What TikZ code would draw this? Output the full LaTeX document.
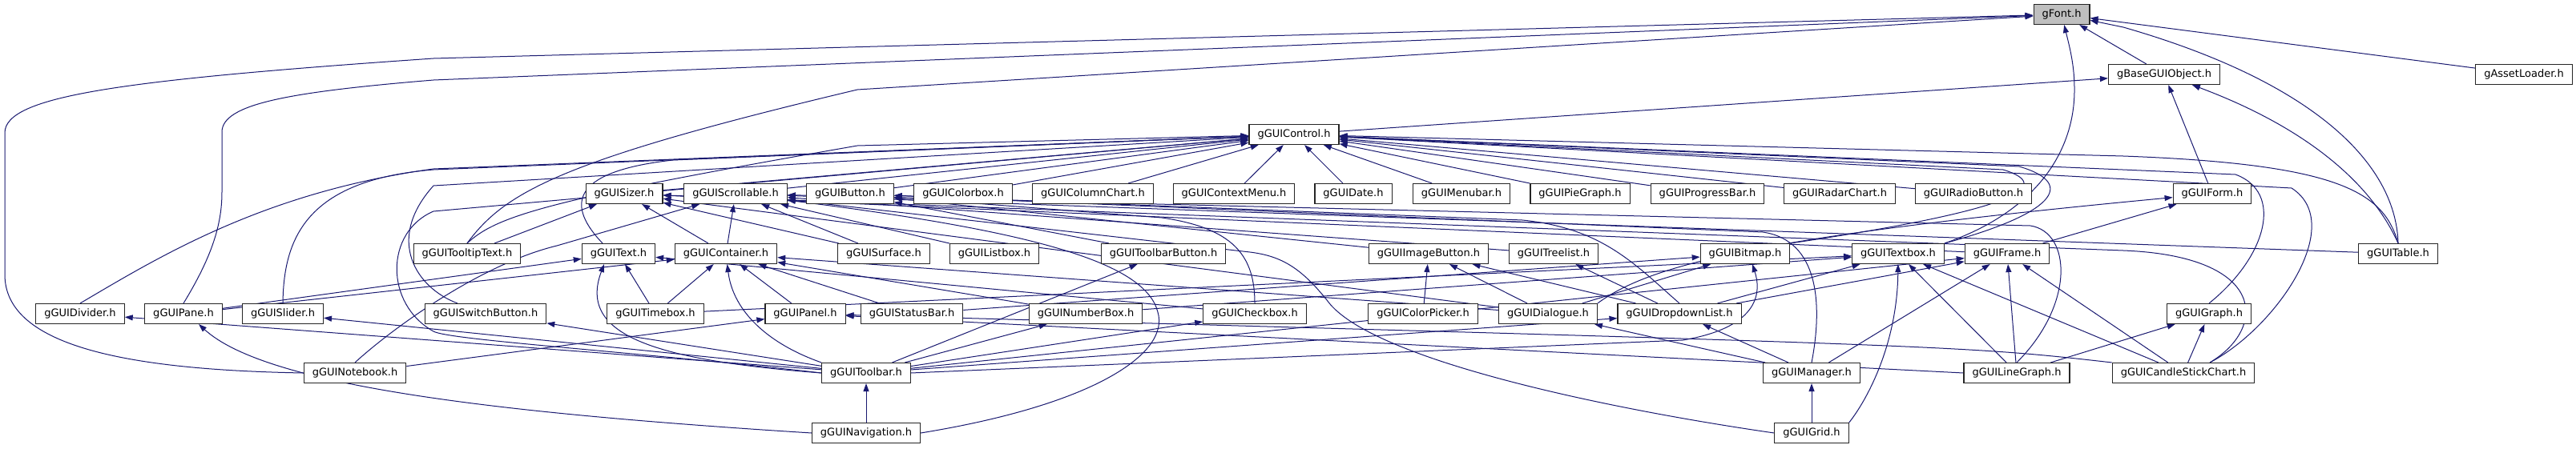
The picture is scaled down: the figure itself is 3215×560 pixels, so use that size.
\documentclass[tikz,border=0pt]{standalone}
\usepackage{fontspec}
\setmainfont{DejaVu Sans}
\usetikzlibrary{arrows.meta}
\definecolor{depblue}{HTML}{191970}
\pgfdeclarelayer{edges}
\pgfsetlayers{edges,main}
\newcommand{\hfont}{\fontsize{13}{15}\selectfont}
\begin{document}
\begin{tikzpicture}[x=1pt,y=-1pt,
  hfile/.style={draw=black!85,line width=1.1pt,fill=white,minimum height=25pt,inner xsep=10.5pt,inner ysep=0pt,font=\hfont},
  hmain/.style={hfile,fill=black!25},
  incl/.style={draw=depblue,line width=1pt,-{Triangle[length=10pt,width=7pt]}}]
\useasboundingbox (0,0) rectangle (3215,560);
\node[hmain] (font) at (2573,18) {gFont.h};
\node[hfile] (base) at (2701,93) {gBaseGUIObject.h};
\node[hfile] (asset) at (3150,93) {gAssetLoader.h};
\node[hfile] (ctrl) at (1615,168) {gGUIControl.h};
\node[hfile] (sizer) at (779,242) {gGUISizer.h};
\node[hfile] (scroll) at (918,242) {gGUIScrollable.h};
\node[hfile] (button) at (1061,242) {gGUIButton.h};
\node[hfile] (colorbox) at (1202,242) {gGUIColorbox.h};
\node[hfile] (colchart) at (1364,242) {gGUIColumnChart.h};
\node[hfile] (ctxmenu) at (1540,242) {gGUIContextMenu.h};
\node[hfile] (date) at (1689,242) {gGUIDate.h};
\node[hfile] (menubar) at (1824,242) {gGUIMenubar.h};
\node[hfile] (piegraph) at (1972,242) {gGUIPieGraph.h};
\node[hfile] (progress) at (2131,242) {gGUIProgressBar.h};
\node[hfile] (radar) at (2296,242) {gGUIRadarChart.h};
\node[hfile] (radio) at (2463,242) {gGUIRadioButton.h};
\node[hfile] (form) at (2761,242) {gGUIForm.h};
\node[hfile] (tooltip) at (583,317) {gGUITooltipText.h};
\node[hfile] (text) at (772,317) {gGUIText.h};
\node[hfile] (container) at (906,317) {gGUIContainer.h};
\node[hfile] (surface) at (1103,317) {gGUISurface.h};
\node[hfile] (listbox) at (1241,317) {gGUIListbox.h};
\node[hfile] (tbbutton) at (1452,317) {gGUIToolbarButton.h};
\node[hfile] (imgbutton) at (1783,317) {gGUIImageButton.h};
\node[hfile] (treelist) at (1939,317) {gGUITreelist.h};
\node[hfile] (bitmap) at (2178,317) {gGUIBitmap.h};
\node[hfile] (textbox) at (2369,317) {gGUITextbox.h};
\node[hfile] (frame) at (2505,317) {gGUIFrame.h};
\node[hfile] (table) at (2993,317) {gGUITable.h};
\node[hfile] (divider) at (100,392) {gGUIDivider.h};
\node[hfile] (pane) at (229,392) {gGUIPane.h};
\node[hfile] (slider) at (353,392) {gGUISlider.h};
\node[hfile] (switch) at (606,392) {gGUISwitchButton.h};
\node[hfile] (timebox) at (818,392) {gGUITimebox.h};
\node[hfile] (panel) at (1005,392) {gGUIPanel.h};
\node[hfile] (statusbar) at (1138,392) {gGUIStatusBar.h};
\node[hfile] (numberbox) at (1355,392) {gGUINumberBox.h};
\node[hfile] (checkbox) at (1566,392) {gGUICheckbox.h};
\node[hfile] (colorpicker) at (1776,392) {gGUIColorPicker.h};
\node[hfile] (dialogue) at (1932,392) {gGUIDialogue.h};
\node[hfile] (dropdown) at (2096,392) {gGUIDropdownList.h};
\node[hfile] (graph) at (2757,392) {gGUIGraph.h};
\node[hfile] (notebook) at (443,466) {gGUINotebook.h};
\node[hfile] (toolbar) at (1081,466) {gGUIToolbar.h};
\node[hfile] (manager) at (2261,466) {gGUIManager.h};
\node[hfile] (linegraph) at (2517,466) {gGUILineGraph.h};
\node[hfile] (candle) at (2725,466) {gGUICandleStickChart.h};
\node[hfile] (navigation) at (1081,541) {gGUINavigation.h};
\node[hfile] (grid) at (2261,541) {gGUIGrid.h};
\begin{pgfonlayer}{edges}
\draw[incl] (base) -- (font);
\draw[incl] (asset) -- (font);
\draw[incl] (table.north) .. controls (2990,200) and (2880,100) .. (2650,34) -- (font);
\draw[incl] (textbox.north east) .. controls (2540,265) and (2590,190) .. (2589,110) .. controls (2589,80) and (2582,55) .. (font);
\draw[incl] (notebook.west) .. controls (150,462) and (6,430) .. (6,343) -- (6,166) .. controls (6,120) and (150,100) .. (541,73) -- (font);
\draw[incl] (pane.north) .. controls (265,320) and (277,280) .. (277,240) -- (277,165) .. controls (277,130) and (360,115) .. (541,100) -- (font);
\draw[incl] (tooltip.north) .. controls (630,240) and (700,200) .. (1070,112) -- (font);
\draw[incl] (ctrl) -- (base);
\draw[incl] (form) -- (base);
\draw[incl] (table.north) .. controls (2960,230) and (2880,160) .. (base);
\draw[incl] (sizer) -- (ctrl);
\draw[incl] (scroll) -- (ctrl);
\draw[incl] (button) -- (ctrl);
\draw[incl] (colorbox) -- (ctrl);
\draw[incl] (colchart) -- (ctrl);
\draw[incl] (ctxmenu) -- (ctrl);
\draw[incl] (date) -- (ctrl);
\draw[incl] (menubar) -- (ctrl);
\draw[incl] (piegraph) -- (ctrl);
\draw[incl] (progress) -- (ctrl);
\draw[incl] (radar) -- (ctrl);
\draw[incl] (radio) -- (ctrl);
\draw[incl] (divider.north) .. controls (200,320) and (330,240) .. (541,211) -- (ctrl);
\draw[incl] (slider.north) .. controls (354,300) and (380,225) .. (541,212) -- (ctrl);
\draw[incl] ([xshift=-35pt]switch.north) .. controls (520,360) and (480,300) .. (541,232) -- (ctrl);
\draw[incl] (toolbar.west) .. controls (800,440) and (560,425) .. (541,414) .. controls (480,380) and (480,290) .. (541,264) -- (ctrl);
\draw[incl] (tooltip.north) .. controls (620,270) and (680,250) .. (1070,182) -- (ctrl);
\draw[incl] ([xshift=-20pt]text.north) .. controls (710,260) and (705,215) .. (840,200) -- (ctrl);
\draw[incl] (bitmap.north east) .. controls (2520,262) and (2565,232) .. (2500,212) -- (ctrl);
\draw[incl] (textbox.north east) .. controls (2560,268) and (2595,230) .. (2520,208) -- (ctrl);
\draw[incl] (graph.north) .. controls (2830,320) and (2850,240) .. (2790,218) -- (ctrl);
\draw[incl] ([xshift=33pt]candle.north) .. controls (2840,410) and (2930,280) .. (2860,235) -- (ctrl);
\draw[incl] (table.north) .. controls (2975,240) and (2920,205) .. (2650,195) -- (ctrl);
\draw[incl] (tooltip) -- (sizer);
\draw[incl] (container) -- (sizer);
\draw[incl] (surface) -- (sizer);
\draw[incl] (dialogue) -- (sizer);
\draw[incl] (frame) -- (sizer);
\draw[incl] ([xshift=33pt]candle.north) .. controls (2830,410) and (2830,320) .. (2650,313) -- (sizer);
\draw[incl] (container) -- (scroll);
\draw[incl] (surface) -- (scroll);
\draw[incl] (listbox) -- (scroll);
\draw[incl] (treelist) -- (scroll);
\draw[incl] (table) -- (scroll);
\draw[incl] (notebook.north) .. controls (490,410) and (600,330) .. (695,307) -- (scroll);
\draw[incl] (navigation.east) .. controls (1370,505) and (1460,440) .. (1445,390) .. controls (1430,330) and (1300,290) .. (scroll);
\draw[incl] (grid.west) .. controls (2000,510) and (1720,450) .. (1660,380) .. controls (1625,335) and (1600,320) .. (1560,315) -- (scroll);
\draw[incl] (linegraph.north) .. controls (2590,380) and (2585,290) .. (2534,282) -- (scroll);
\draw[incl] (imgbutton) -- (button);
\draw[incl] (tbbutton) -- (button);
\draw[incl] (checkbox.north) .. controls (1566,320) and (1540,285) .. (1450,272) -- (button);
\draw[incl] (dropdown.north) .. controls (2040,330) and (2000,285) .. (1900,275) -- (button);
\draw[incl] (manager.north) .. controls (2275,380) and (2270,300) .. (2200,290) -- (button);
\draw[incl] (timebox) -- (text);
\draw[incl] (toolbar.west) .. controls (820,450) and (720,420) .. ([xshift=-18pt]text.south);
\draw[incl] (pane) -- (text);
\draw[incl] (checkbox) -- (text);
\draw[incl] (timebox) -- (container);
\draw[incl] (panel) -- (container);
\draw[incl] (statusbar) -- (container);
\draw[incl] (toolbar.north west) .. controls (960,430) and (915,390) .. (container);
\draw[incl] (pane) -- (container);
\draw[incl] (numberbox) -- (container);
\draw[incl] (dialogue) -- (container);
\draw[incl] (timebox) -- (textbox);
\draw[incl] (notebook) -- (panel);
\draw[incl] (linegraph.west) -- (panel);
\draw[incl] (candle.north west) .. controls (2450,432) .. (panel);
\draw[incl] (toolbar) -- (switch);
\draw[incl] (toolbar) -- (divider);
\draw[incl] (toolbar) -- (slider);
\draw[incl] (navigation) -- (toolbar);
\draw[incl] (navigation.west) .. controls (600,515) and (330,480) .. ([xshift=19pt]pane.south);
\draw[incl] (toolbar) -- (tbbutton);
\draw[incl] (toolbar) -- (numberbox);
\draw[incl] (toolbar) -- (checkbox);
\draw[incl] (toolbar.east) -- (2100,425) .. controls (2190,410) and (2200,370) .. ([xshift=9pt]bitmap.south);
\draw[incl] (toolbar) -- (frame);
\draw[incl] (toolbar) -- (dropdown);
\draw[incl] (colorpicker) -- (imgbutton);
\draw[incl] (dialogue) -- (imgbutton);
\draw[incl] (dropdown) -- (imgbutton);
\draw[incl] (dropdown) -- (treelist);
\draw[incl] (dialogue) -- (bitmap);
\draw[incl] (statusbar) -- (bitmap);
\draw[incl] (dropdown) -- (textbox);
\draw[incl] (grid.north east) .. controls (2330,500) and (2368,430) .. (textbox);
\draw[incl] (linegraph) -- (textbox);
\draw[incl] (candle) -- (textbox);
\draw[incl] (numberbox) -- (textbox);
\draw[incl] (manager) -- (frame);
\draw[incl] (linegraph) -- (frame);
\draw[incl] (candle) -- (frame);
\draw[incl] (dropdown) -- (frame);
\draw[incl] (frame) -- (form);
\draw[incl] (dialogue.north east) .. controls (2060,330) and (2200,295) .. (form);
\draw[incl] (manager) -- (dialogue);
\draw[incl] (manager) -- (dropdown);
\draw[incl] (grid) -- (manager);
\draw[incl] (linegraph) -- (graph);
\draw[incl] (candle) -- (graph);
\end{pgfonlayer}
\end{tikzpicture}
\end{document}
